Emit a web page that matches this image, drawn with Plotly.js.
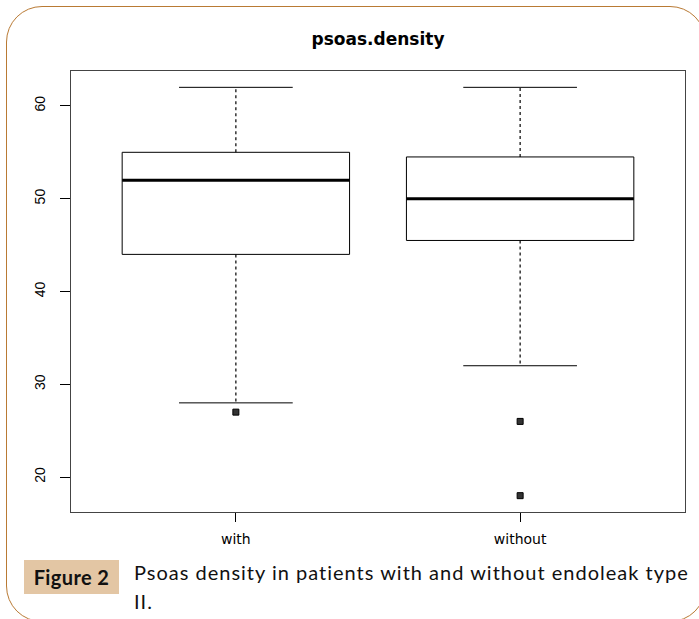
<!DOCTYPE html>
<html>
<head>
<meta charset="utf-8">
<script src="https://cdn.plot.ly/plotly-3.0.1.min.js"></script>
<style>
  html, body { margin:0; padding:0; background:#fff; width:699px; height:619px; overflow:hidden; }
  #wrap { position:relative; width:699px; height:619px; }
  #chart { position:absolute; left:0; top:0; width:699px; height:619px; }
  #frame { position:absolute; left:6px; top:6px; width:700px; height:616px; box-sizing:border-box;
           border:1.5px solid #b97a34; border-radius:36px; pointer-events:none; }
  #label { position:absolute; left:24px; top:560px; width:95px; height:34px; background:#e3c6a4;
           font-family:'Lato', sans-serif; font-weight:bold; font-size:20px; letter-spacing:0.4px; color:#111;
           display:flex; align-items:center; justify-content:center; }
  #caption { position:absolute; left:134px; top:558px; width:560px; font-family:'Lato', sans-serif;
             font-size:20px; letter-spacing:1px; line-height:29px; color:#111; }
</style>
</head>
<body>
<div id="wrap">
  <div id="chart"></div>
  <div id="frame"></div>
  <div id="label">Figure 2</div>
  <div id="caption">Psoas density in patients with and without endoleak type II.</div>
</div>
<script>
// ---- data ----
var groups = ['with', 'without'];
var q1 = [44, 45.5];
var medians = [52, 50];
var q3 = [55, 54.5];
var lowerWhisker = [28, 32];
var upperWhisker = [62, 62];
var outlierGroup = ['with', 'without', 'without'];
var outlierValue = [27, 26, 18];
var yTicks = [20, 30, 40, 50, 60];
var chartTitle = 'psoas.density';

// ---- build traces ----
var boxHalf = 0.4, capHalf = 0.2;
var traces = [];
groups.forEach(function (g, i) {
  var c = i + 1;
  // whiskers (dashed)
  traces.push({ type:'scatter', mode:'lines', x:[c, c, null, c, c], y:[q3[i], upperWhisker[i], null, q1[i], lowerWhisker[i]],
    line:{ color:'#000', width:1.2, dash:'3px,3px' }, hoverinfo:'skip', showlegend:false });
  // caps
  traces.push({ type:'scatter', mode:'lines', x:[c - capHalf, c + capHalf, null, c - capHalf, c + capHalf],
    y:[upperWhisker[i], upperWhisker[i], null, lowerWhisker[i], lowerWhisker[i]],
    line:{ color:'#000', width:1 }, hoverinfo:'skip', showlegend:false });
  // box
  traces.push({ type:'scatter', mode:'lines', x:[c - boxHalf, c + boxHalf, c + boxHalf, c - boxHalf, c - boxHalf],
    y:[q1[i], q1[i], q3[i], q3[i], q1[i]], line:{ color:'#000', width:1 }, hoverinfo:'skip', showlegend:false });
  // median
  traces.push({ type:'scatter', mode:'lines', x:[c - boxHalf, c + boxHalf], y:[medians[i], medians[i]],
    line:{ color:'#000', width:3 }, hoverinfo:'skip', showlegend:false });
});
traces.push({ type:'scatter', mode:'markers',
  x: outlierGroup.map(function (g) { return groups.indexOf(g) + 1; }), y: outlierValue,
  marker:{ symbol:'square', size:6, color:'#333', line:{ width:1, color:'#000' } },
  hoverinfo:'skip', showlegend:false });

var layout = {
  width:699, height:619,
  margin:{ l:71, r:14, t:71, b:107 },
  paper_bgcolor:'rgba(0,0,0,0)', plot_bgcolor:'#fff',
  title:{ text:chartTitle, font:{ family:'DejaVu Sans', size:17, color:'#000', weight:'bold' },
          xref:'paper', x:0.5, xanchor:'center', yref:'container', y:1 - 39/619, yanchor:'middle' },
  xaxis:{ range:[0.42, 2.58], tickmode:'array', tickvals:groups.map(function (g, i) { return i + 1; }), ticktext:groups,
          ticks:'outside', ticklen:9, tickcolor:'#000', tickwidth:1,
          showgrid:false, zeroline:false, showline:true, linecolor:'#444', linewidth:1, mirror:true,
          tickfont:{ family:'DejaVu Sans', size:14, color:'#000' }, ticklabelstandoff:5, fixedrange:true },
  yaxis:{ range:[16.24, 63.76], tickmode:'array', tickvals:yTicks, ticktext:yTicks.map(String),
          ticks:'outside', ticklen:10, tickcolor:'#000', tickwidth:1, tickangle:-90,
          showgrid:false, zeroline:false, showline:true, linecolor:'#444', linewidth:1, mirror:true,
          tickfont:{ family:'Liberation Sans', size:14, color:'#000' }, ticklabelstandoff:9, fixedrange:true },
  showlegend:false
};

Plotly.newPlot('chart', traces, layout, { displayModeBar:false, staticPlot:true });
</script>
</body>
</html>
